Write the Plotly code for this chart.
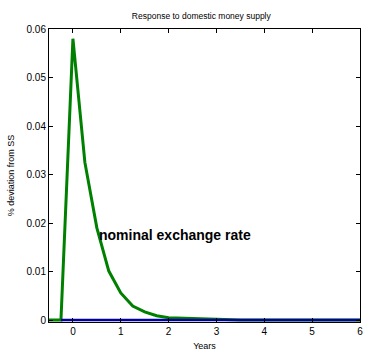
import plotly.graph_objects as go

years = [-0.5, -0.25, 0, 0.25, 0.5, 0.75, 1.0, 1.25, 1.5, 1.75, 2.0, 2.25, 2.5, 2.75, 3.0, 3.25, 3.5, 3.75, 4.0,
         4.25, 4.5, 4.75, 5.0, 5.25, 5.5, 5.75, 6.0]
exch = [0, 0, 0.058, 0.0325, 0.019, 0.0101, 0.0056, 0.0029, 0.0017, 0.0009, 0.0005, 0.0004, 0.0003, 0.00025,
        0.0002, 0.00015, 0, 0, 0, 0, 0, 0, 0, 0, 0, 0, 0]
blue_x = [-0.25, 6.0]
blue_y = [0, 0]

font = "Liberation Sans, Arial, sans-serif"

fig = go.Figure()
fig.add_trace(go.Scatter(x=years, y=exch, mode="lines", line=dict(color="#008000", width=3), showlegend=False))
fig.add_trace(go.Scatter(x=blue_x, y=blue_y, mode="lines", line=dict(color="#0000a0", width=2.5), showlegend=False))

fig.add_annotation(x=0.5, y=0.0175, xref="x", yref="y", text="<b>nominal exchange rate</b>", showarrow=False,
                   xanchor="left", yanchor="middle", font=dict(family=font, size=14, color="black"))

fig.update_layout(
    width=366, height=360,
    margin=dict(l=49, r=3, t=29, b=38),
    paper_bgcolor="white", plot_bgcolor="white",
    title=dict(text="Response to domestic money supply", x=0.55, xanchor="center", y=0.955, yanchor="middle",
               font=dict(family=font, size=8.5, color="black")),
    font=dict(family=font, size=10, color="black"),
)
fig.update_xaxes(range=[-0.5, 6], tickvals=[0, 1, 2, 3, 4, 5, 6], ticks="inside", ticklen=4, tickcolor="black",
                 showline=True, linecolor="black", linewidth=1, mirror="ticks", showgrid=False, zeroline=False,
                 ticklabeloverflow="allow",
                 title=dict(text="Years", font=dict(size=9), standoff=6), tickfont=dict(size=10))
fig.update_yaxes(range=[-0.0004, 0.06], tickvals=[0, 0.01, 0.02, 0.03, 0.04, 0.05, 0.06],
                 ticktext=["0", "0.01", "0.02", "0.03", "0.04", "0.05", "0.06"],
                 ticks="inside", ticklen=4, tickcolor="black", ticklabeloverflow="allow",
                 showline=True, linecolor="black", linewidth=1, mirror="ticks", showgrid=False, zeroline=False,
                 title=dict(text="% deviation from SS", font=dict(size=9), standoff=10), tickfont=dict(size=10))

fig.write_html("out.html")
